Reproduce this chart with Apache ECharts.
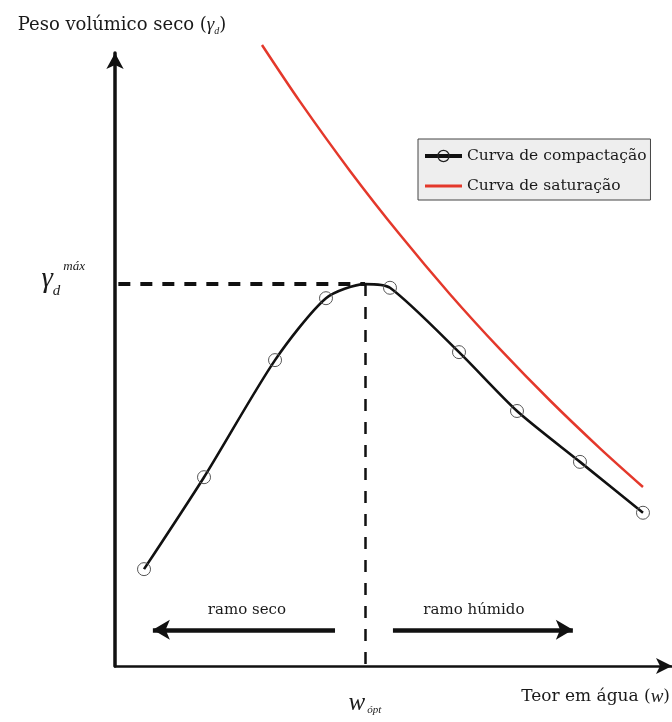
<!DOCTYPE html>
<html><head><meta charset="utf-8">
<script src="https://cdn.jsdelivr.net/npm/echarts@6/dist/echarts.min.js"></script>
<style>html,body{margin:0;padding:0;background:#fff}#c{width:672px;height:722px}</style>
</head><body><div id="c"></div>
<script>
// Compaction curve (water content w, dry unit weight gamma_d) - relative units
const compactW     = [5.21, 15.98, 28.73, 37.88, 44.88, 49.37, 61.76, 72.17, 83.48, 94.79];
const compactGamma = [15.8, 30.8, 49.9, 60.0, 62.3, 61.7, 51.2, 41.6, 33.3, 25.0];
const measured     = [true, true, true, true, false, true, true, true, true, true]; // peak is not a test point
// Saturation curve
const satW     = [26.39, 33.21, 42.19, 51.17, 60.14, 69.12, 78.10, 87.07, 94.79];
const satGamma = [101.31, 92.07, 80.77, 70.34, 60.65, 51.68, 43.31, 35.51, 29.20];
// Optimum
const wOpt = 44.88;
const gammaMax = 62.3;
// Branch arrows (w from, w to) and level
const dryBranch = [6.8, 39.5];
const wetBranch = [49.9, 82.2];
const branchLevel = 5.9;
const seriesNames = ['Curva de compactação', 'Curva de saturação'];

const SERIF = 'DejaVu Serif';
const chart = echarts.init(document.getElementById('c'), null, {renderer: 'canvas'});

const compactData = compactW.map((w, i) => measured[i] ? [w, compactGamma[i]] : {value: [w, compactGamma[i]], symbol: 'none'});
const satData = satW.map((w, i) => [w, satGamma[i]]);

chart.setOption({
  animation: false,
  backgroundColor: '#fff',
  textStyle: {fontFamily: SERIF, color: '#1a1a1a'},
  grid: {left: 115, right: 0, top: 53, bottom: 56, outerBoundsMode: 'none', containLabel: false},
  legend: {
    data: [
      {name: seriesNames[0], lineStyle: {width: 4, color: '#111'}, itemStyle: {color: 'rgba(255,255,255,0)', borderColor: '#222', borderWidth: 1.3}},
      {name: seriesNames[1], icon: 'path://M0,0H40V3H0Z', itemStyle: {color: '#e4382b'}}
    ],
    orient: 'vertical', left: 418, top: 139,
    padding: [9, 4, 6, 5],
    itemWidth: 37, itemHeight: 14, itemGap: 14,
    backgroundColor: '#eeeeee', borderColor: '#444', borderWidth: 1, borderRadius: 0,
    textStyle: {fontFamily: SERIF, fontSize: 15.5, color: '#1a1a1a'},
    selectedMode: false
  },
  xAxis: {
    type: 'value', min: 0, max: 100,
    name: 'Teor em água ({i|w})', nameLocation: 'end', nameGap: -2,
    nameTextStyle: {fontFamily: SERIF, fontSize: 17, color: '#1a1a1a', align: 'right', verticalAlign: 'top', padding: [21, 0, 0, 0],
      rich: {i: {fontFamily: 'Liberation Serif', fontStyle: 'italic', fontSize: 19}}},
    axisLine: {show: true, lineStyle: {color: '#111', width: 2.5}, symbol: ['none', 'arrow'], symbolSize: [12, 16], symbolOffset: [0, 0]},
    axisTick: {show: false}, splitLine: {show: false},
    axisLabel: {
      customValues: [wOpt], margin: 24,
      formatter: () => '{w|w}{s|ópt}',
      rich: {
        w: {fontFamily: 'Liberation Serif', fontStyle: 'italic', fontSize: 25, lineHeight: 26, verticalAlign: 'middle'},
        s: {fontFamily: 'Liberation Serif', fontStyle: 'italic', fontSize: 11, lineHeight: 12, verticalAlign: 'bottom', padding: [0, 0, 0, 2]}
      }
    }
  },
  yAxis: {
    type: 'value', min: 0, max: 100,
    name: 'Peso volúmico seco ({g|γ}{d|d})', nameLocation: 'end', nameGap: 17,
    nameTextStyle: {fontFamily: SERIF, fontSize: 18, color: '#1a1a1a', padding: [0, 0, 0, 14],
      rich: {g: {fontFamily: 'Liberation Serif', fontStyle: 'italic', fontSize: 19, lineHeight: 22},
             d: {fontFamily: 'Liberation Serif', fontStyle: 'italic', fontSize: 10, lineHeight: 11, verticalAlign: 'bottom'}}},
    axisLine: {show: true, lineStyle: {color: '#111', width: 3.5}, symbol: ['none', 'arrow'], symbolSize: [13, 16], symbolOffset: [0, 0]},
    axisTick: {show: false}, splitLine: {show: false},
    axisLabel: {
      customValues: [gammaMax], margin: 30, padding: [0, 0, 10, 0],
      formatter: () => '{g|γ}{d|d}{m|máx}',
      rich: {
        g: {fontFamily: 'Liberation Serif', fontStyle: 'italic', fontSize: 29, lineHeight: 38, verticalAlign: 'middle'},
        d: {fontFamily: 'Liberation Serif', fontStyle: 'italic', fontSize: 15, lineHeight: 17, verticalAlign: 'bottom'},
        m: {fontFamily: 'Liberation Serif', fontStyle: 'italic', fontSize: 13, lineHeight: 14, verticalAlign: 'top', padding: [0, 0, 0, 3]}
      }
    }
  },
  series: [
    {
      name: seriesNames[0], type: 'line', data: compactData,
      smooth: 0.25, symbol: 'circle', symbolSize: 13,
      lineStyle: {color: '#111', width: 2.6},
      itemStyle: {color: 'rgba(255,255,255,0)', borderColor: '#555', borderWidth: 1},
      z: 3
    },
    {
      name: seriesNames[1], type: 'line', data: satData,
      smooth: 0.3, symbol: 'none', clip: false,
      lineStyle: {color: '#e4382b', width: 2.5},
      itemStyle: {color: '#e4382b'},
      z: 2
    },
    {
      name: 'anotações', type: 'line', data: [], symbol: 'none', silent: true,
      markLine: {
        silent: true, animation: false, symbol: ['none', 'none'],
        label: {show: false},
        data: [
          [{coord: [0.6, gammaMax], lineStyle: {type: [12, 10], width: 4, color: '#111'}}, {coord: [wOpt, gammaMax]}],
          [{coord: [wOpt, gammaMax], lineStyle: {type: [12, 11], width: 2.5, color: '#111'}}, {coord: [wOpt, 0]}],
          [{coord: [dryBranch[0], branchLevel], symbol: 'arrow', symbolSize: [15, 17],
            lineStyle: {type: 'solid', width: 4.5, color: '#111'},
            label: {show: true, formatter: 'ramo seco', position: 'insideMiddleTop', distance: 12, padding: [0, 0, 0, 6], fontFamily: SERIF, fontSize: 15, color: '#1a1a1a'}},
           {coord: [dryBranch[1], branchLevel], symbol: 'none'}],
          [{coord: [wetBranch[0], branchLevel], symbol: 'none',
            lineStyle: {type: 'solid', width: 4.5, color: '#111'},
            label: {show: true, formatter: 'ramo húmido', position: 'insideMiddleTop', distance: 12, padding: [0, 18, 0, 0], fontFamily: SERIF, fontSize: 15, color: '#1a1a1a'}},
           {coord: [wetBranch[1], branchLevel], symbol: 'arrow', symbolSize: [15, 17]}]
        ]
      }
    }
  ]
});
</script></body></html>
